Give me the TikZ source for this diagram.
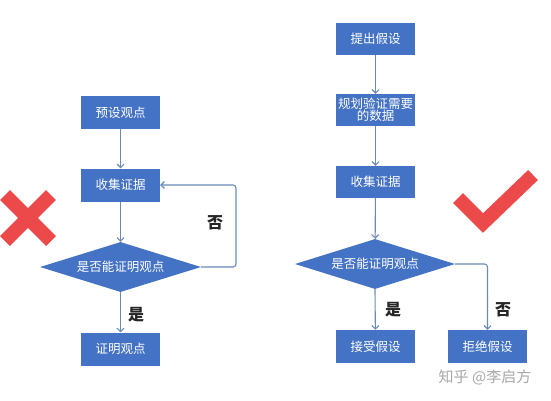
\documentclass[tikz,border=0pt]{standalone}
\usepackage{fontspec}
\setmainfont{Noto Sans CJK SC}
\usetikzlibrary{shapes.geometric,arrows.meta}
\definecolor{boxblue}{HTML}{4472C4}
\definecolor{linkblue}{HTML}{6A8BB5}
\definecolor{markred}{HTML}{EC4A4A}
\definecolor{wmgray}{HTML}{A8A8A8}
\tikzset{
  stepbox/.style={fill=boxblue, draw=none, text=white, minimum width=79pt, minimum height=33pt, inner sep=0pt, align=center, font=\fontsize{12.5}{14}\selectfont},
  decide/.style={diamond, aspect=3.2, fill=boxblue, draw=none, text=white, minimum width=161pt, minimum height=50pt, inner sep=0pt, font=\fontsize{12.5}{14}\selectfont},
  link/.style={draw=linkblue, line width=1.1pt, -{Straight Barb[length=3.5pt,width=7pt]}, rounded corners=3pt},
  answer/.style={font=\fontsize{16}{18}\selectfont\bfseries, text=black!85},
  redstroke/.style={draw=markred, line width=14pt}
}
\begin{document}
\begin{tikzpicture}[x=1pt, y=-1pt]
\useasboundingbox[fill=white] (0,0) rectangle (551,400);
% left flow
\node[stepbox] (l1) at (120.5,112.5) {预设观点};
\node[stepbox] (l2) at (120.5,185) {收集证据};
\node[decide] (ld) at (120.5,267) {是否能证明观点};
\node[stepbox] (l3) at (120.5,349) {证明观点};
\coordinate (lc1) at (236,267);
\coordinate (lc2) at (236,185);
\draw[link] (l1) -- (l2);
\draw[link] (l2) -- (ld);
\draw[link] (ld) -- (l3);
\draw[link] (ld.east) -- (lc1) -- (lc2) -- (l2.east);
\node[answer] (lno) at (215,223) {否};
\node[answer] (lyes) at (136,315) {是};
% red cross
\draw[redstroke] (5,195) -- (51,241);
\draw[redstroke] (51,195) -- (5,241);
% right flow
\node[stepbox, minimum height=32pt] (r1) at (375.5,39) {提出假设};
\node[stepbox, minimum height=32pt] (r2) at (375.5,110) {规划验证需要\\[-2pt]的数据};
\node[stepbox, minimum height=32pt] (r3) at (375.5,182) {收集证据};
\node[decide, minimum width=160pt] (rd) at (375,264) {是否能证明观点};
\node[stepbox] (r4) at (375.5,346.5) {接受假设};
\node[stepbox] (r5) at (487.5,346.5) {拒绝假设};
\coordinate (rc1) at (487.5,264);
\draw[link] (r1) -- (r2);
\draw[link] (r2) -- (r3);
\draw[link] (r3) -- (rd);
\draw[link] (rd.south) -- (r4);
\draw[link] (rd.east) -- (rc1) -- (r5.north);
\node[answer] (ryes) at (393,310) {是};
\node[answer] (rno) at (503,310) {否};
% check mark
\draw[redstroke, line join=miter] (458,198) -- (483,223) -- (533,175);
% watermark
\node[text=wmgray, font=\fontsize{15}{17}\selectfont, inner sep=0pt] (wm) at (485,377) {知乎 @李启方};
\end{tikzpicture}
\end{document}
